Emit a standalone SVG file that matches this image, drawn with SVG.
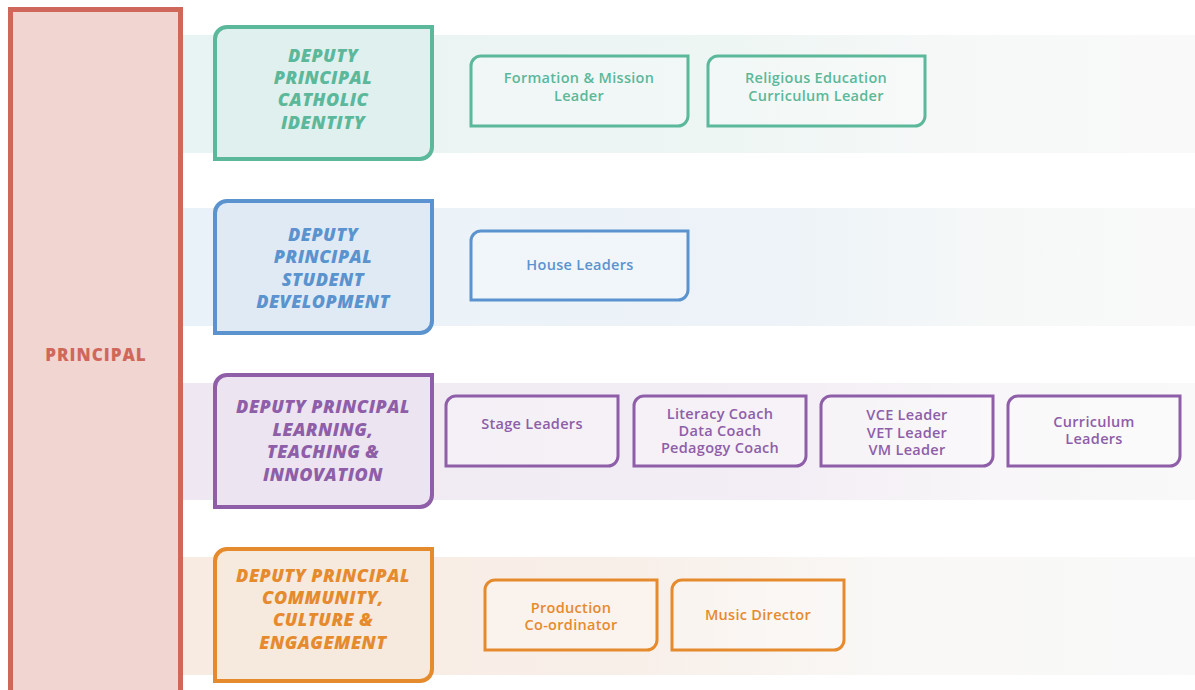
<svg xmlns="http://www.w3.org/2000/svg" width="1195" height="690" viewBox="0 0 1195 690">
<style>
.dep{font-family:"Open Sans","Liberation Sans",sans-serif;font-weight:800;font-style:italic;font-size:18px;letter-spacing:0.5px;text-anchor:middle}
.sub{font-family:"Open Sans","Liberation Sans",sans-serif;font-weight:600;font-size:14.5px;letter-spacing:0.3px;text-anchor:middle}
.teal{fill:#5bb89a}.blue{fill:#5b93cf}.purple{fill:#8e5ea8}.orange{fill:#e68a2e}
.dbox{stroke-width:4}
.sbox{stroke-width:3;fill:#ffffff;fill-opacity:0.25}
</style>
<defs>
<linearGradient id="gT" x1="0" x2="1" y1="0" y2="0"><stop offset="0" stop-color="#e8f3f3"/><stop offset="0.55" stop-color="#eef6f4"/><stop offset="0.75" stop-color="#f6f8f8"/><stop offset="1" stop-color="#f9f9f9"/></linearGradient>
<linearGradient id="gB" x1="0" x2="1" y1="0" y2="0"><stop offset="0" stop-color="#eaf2f9"/><stop offset="0.6" stop-color="#edf3f8"/><stop offset="0.8" stop-color="#f6f8f8"/><stop offset="1" stop-color="#f9f9f9"/></linearGradient>
<linearGradient id="gP" x1="0" x2="1" y1="0" y2="0"><stop offset="0" stop-color="#efe8f2"/><stop offset="0.6" stop-color="#f3eef5"/><stop offset="0.8" stop-color="#f8f6f8"/><stop offset="1" stop-color="#f9f9f9"/></linearGradient>
<linearGradient id="gO" x1="0" x2="1" y1="0" y2="0"><stop offset="0" stop-color="#f8ece2"/><stop offset="0.45" stop-color="#f8efe9"/><stop offset="0.7" stop-color="#f9f8f6"/><stop offset="1" stop-color="#f9f9f9"/></linearGradient>
</defs>
<rect x="0" y="0" width="1195" height="690" fill="#ffffff"/>
<g id="bands">
<rect x="183" y="35" width="1012" height="118" fill="url(#gT)"/>
<rect x="183" y="208" width="1012" height="118" fill="url(#gB)"/>
<rect x="183" y="383" width="1012" height="117" fill="url(#gP)"/>
<rect x="183" y="557" width="1012" height="118" fill="url(#gO)"/>
</g>
<g id="principal">
<rect x="10.5" y="9.5" width="170" height="700" fill="#f0d5d1" stroke="#d0675b" stroke-width="5"/>
<text x="96" y="361" font-family="Open Sans, Liberation Sans, sans-serif" font-weight="800" font-size="17" letter-spacing="1" fill="#d0675b" text-anchor="middle">PRINCIPAL</text>
</g>
<g id="connectors"/>
<g id="dp-catholic">
<path class="dbox" d="M227,27 H432 V147 A12,12 0 0 1 420,159 H215 V39 A12,12 0 0 1 227,27 Z" fill="#e0f0ee" stroke="#5bb89a"/>
<text class="dep teal"><tspan x="323" y="62">DEPUTY</tspan><tspan x="323" y="84">PRINCIPAL</tspan><tspan x="323" y="106">CATHOLIC</tspan><tspan x="323" y="129">IDENTITY</tspan></text>
</g>
<g id="formation">
<path class="sbox" d="M481,56 H688 V116 A10,10 0 0 1 678,126 H471 V66 A10,10 0 0 1 481,56 Z" stroke="#5bb89a"/>
<text class="sub teal"><tspan x="579" y="83">Formation &amp; Mission</tspan><tspan x="579" y="101">Leader</tspan></text>
</g>
<g id="religious">
<path class="sbox" d="M718,56 H925 V116 A10,10 0 0 1 915,126 H708 V66 A10,10 0 0 1 718,56 Z" stroke="#5bb89a"/>
<text class="sub teal"><tspan x="816" y="83">Religious Education</tspan><tspan x="816" y="101">Curriculum Leader</tspan></text>
</g>
<g id="dp-student">
<path class="dbox" d="M227,201 H432 V321 A12,12 0 0 1 420,333 H215 V213 A12,12 0 0 1 227,201 Z" fill="#e0eaf5" stroke="#5b93cf"/>
<text class="dep blue"><tspan x="323" y="241">DEPUTY</tspan><tspan x="323" y="263">PRINCIPAL</tspan><tspan x="323" y="286">STUDENT</tspan><tspan x="323" y="308">DEVELOPMENT</tspan></text>
</g>
<g id="house">
<path class="sbox" d="M481,231 H688 V290 A10,10 0 0 1 678,300 H471 V241 A10,10 0 0 1 481,231 Z" stroke="#5b93cf"/>
<text class="sub blue" x="580" y="270">House Leaders</text>
</g>
<g id="dp-learning">
<path class="dbox" d="M227,375 H432 V495 A12,12 0 0 1 420,507 H215 V387 A12,12 0 0 1 227,375 Z" fill="#ece4f0" stroke="#8e5ea8"/>
<text class="dep purple"><tspan x="323" y="413">DEPUTY PRINCIPAL</tspan><tspan x="323" y="436">LEARNING,</tspan><tspan x="323" y="458">TEACHING &amp;</tspan><tspan x="323" y="481">INNOVATION</tspan></text>
</g>
<g id="stage">
<path class="sbox" d="M456,396 H618 V456 A10,10 0 0 1 608,466 H446 V406 A10,10 0 0 1 456,396 Z" stroke="#8e5ea8"/>
<text class="sub purple" x="532" y="429">Stage Leaders</text>
</g>
<g id="coaches">
<path class="sbox" d="M644,396 H806 V456 A10,10 0 0 1 796,466 H634 V406 A10,10 0 0 1 644,396 Z" stroke="#8e5ea8"/>
<text class="sub purple"><tspan x="720" y="419">Literacy Coach</tspan><tspan x="720" y="436">Data Coach</tspan><tspan x="720" y="453">Pedagogy Coach</tspan></text>
</g>
<g id="vce">
<path class="sbox" d="M831,396 H993 V456 A10,10 0 0 1 983,466 H821 V406 A10,10 0 0 1 831,396 Z" stroke="#8e5ea8"/>
<text class="sub purple"><tspan x="907" y="420">VCE Leader</tspan><tspan x="907" y="438">VET Leader</tspan><tspan x="907" y="455">VM Leader</tspan></text>
</g>
<g id="curriculum">
<path class="sbox" d="M1018,396 H1180 V456 A10,10 0 0 1 1170,466 H1008 V406 A10,10 0 0 1 1018,396 Z" stroke="#8e5ea8"/>
<text class="sub purple"><tspan x="1094" y="427">Curriculum</tspan><tspan x="1094" y="444">Leaders</tspan></text>
</g>
<g id="dp-community">
<path class="dbox" d="M227,549 H432 V669 A12,12 0 0 1 420,681 H215 V561 A12,12 0 0 1 227,549 Z" fill="#f5eadd" stroke="#e68a2e"/>
<text class="dep orange"><tspan x="323" y="582">DEPUTY PRINCIPAL</tspan><tspan x="323" y="604">COMMUNITY,</tspan><tspan x="323" y="626">CULTURE &amp;</tspan><tspan x="323" y="649">ENGAGEMENT</tspan></text>
</g>
<g id="production">
<path class="sbox" d="M495,580 H657 V640 A10,10 0 0 1 647,650 H485 V590 A10,10 0 0 1 495,580 Z" stroke="#e68a2e"/>
<text class="sub orange"><tspan x="571" y="613">Production</tspan><tspan x="571" y="630">Co-ordinator</tspan></text>
</g>
<g id="music">
<path class="sbox" d="M682,580 H844 V640 A10,10 0 0 1 834,650 H672 V590 A10,10 0 0 1 682,580 Z" stroke="#e68a2e"/>
<text class="sub orange" x="758" y="620">Music Director</text>
</g>
</svg>
